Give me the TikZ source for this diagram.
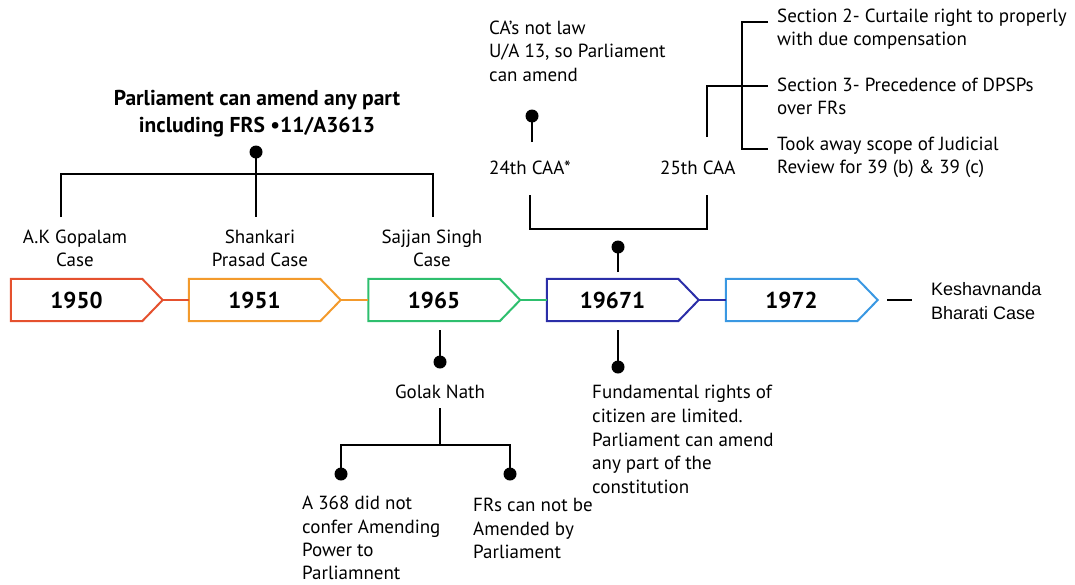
\documentclass[tikz,border=0pt]{standalone}
\usepackage{fontspec}
\setmainfont{PT Sans}
\newfontfamily\arialf{Liberation Sans}
\definecolor{cA}{HTML}{E5512E}
\definecolor{cB}{HTML}{F39A2C}
\definecolor{cC}{HTML}{2EBF6E}
\definecolor{cD}{HTML}{2B2EA8}
\definecolor{cE}{HTML}{3A98E2}
\begin{document}
\begin{tikzpicture}[x=1pt,y=-1pt,
  txt/.style={font=\fontsize{19}{23.6}\selectfont, inner sep=0pt, align=left},
  ctxt/.style={txt, align=center},
  ttl/.style={font=\fontsize{21.5}{26.7}\selectfont\bfseries, inner sep=0pt, align=center},
  yearbox/.style={minimum width=131pt, minimum height=42pt, inner sep=0pt, font=\fontsize{23}{26}\selectfont\bfseries},
  outline/.style={line width=2pt, line join=miter},
  conn/.style={line width=1.8pt},
  dot/.style={circle, fill=black, inner sep=0pt, minimum size=13pt},
  link/.style={line width=1.8pt, black}
]
\useasboundingbox (0,0) rectangle (1075,584);

% ---------- year boxes ----------
\node[yearbox] (y1) at (76.5,300) {1950};
\node[yearbox] (y2) at (254.5,300) {1951};
\node[yearbox] (y3) at (434,300) {1965};
\node[yearbox] (y4) at (612.5,300) {19671};
\node[yearbox] (y5) at (791.5,300) {1972};
\foreach \n/\c in {y1/cA,y2/cB,y3/cC,y4/cD,y5/cE}{
  \coordinate (\n t) at ([xshift=20.5pt]\n.east);
  \draw[outline, draw=\c] (\n.north west) -- (\n.north east) -- (\n t) -- (\n.south east) -- (\n.south west) -- cycle;
}
\draw[conn, cA] (y1t) -- (y2.west);
\draw[conn, cB] (y2t) -- (y3.west);
\draw[conn, cC] (y3t) -- (y4.west);
\draw[conn, cD] (y4t) -- (y5.west);

% Keshavnanda
\node[font=\arialf\fontsize{18}{24}\selectfont, inner sep=0pt, align=left, anchor=west] (kb) at (931,301) {Keshavnanda\\Bharati Case};
\coordinate (k0) at (887,300);
\coordinate (k1) at (912,300);
\draw[link] (k0) -- (k1);

% ---------- top-left tree ----------
\node[ttl] (title) at (257,113.5) {Parliament can amend any part\\including FRS •11/A3613};
\node[dot] (d1) at (256,152) {};
\coordinate (L1) at (61,217);
\coordinate (L2) at (256,217);
\coordinate (L3) at (433,217);
\coordinate (J1) at (256,174);
\draw[link] (L1) |- (J1) -| (L3);
\draw[link] (d1.center) -- (L2);
\node[ctxt] (ak) at (75,248.5) {A.K Gopalam\\Case};
\node[ctxt] (sp) at (260,248.5) {Shankari\\Prasad Case};
\node[ctxt] (ss) at (432,248.5) {Sajjan Singh\\Case};

% ---------- Golak Nath tree ----------
\coordinate (g0) at (440,330);
\node[dot] (d2) at (440,362) {};
\draw[link] (g0) -- (d2.center);
\node[ctxt] (gn) at (440,392) {Golak Nath};
\coordinate (g1) at (440,408);
\coordinate (g2) at (440,445);
\node[dot] (d3) at (341,474) {};
\node[dot] (d4) at (510,474) {};
\draw[link] (g1) -- (g2);
\draw[link] (d3.center) |- (g2) -| (d4.center);
\node[txt, anchor=west, font=\fontsize{19}{23.3}\selectfont] (a368) at (302,538) {A 368 did not\\confer Amending\\Power to\\Parliamnent};
\node[txt, anchor=west] (frs) at (473,528.5) {FRs can not be\\Amended by\\Parliament};

% ---------- 1967 down ----------
\coordinate (f0) at (618,330);
\node[dot] (d5) at (618,367) {};
\draw[link] (f0) -- (d5.center);
\node[txt, anchor=west] (fr) at (592,439.5) {Fundamental rights of\\citizen are limited.\\Parliament can amend\\any part of the\\constitution};

% ---------- 1967 up ----------
\coordinate (u0) at (618,272);
\node[dot] (d6) at (618,247) {};
\draw[link] (u0) -- (d6.center);
\coordinate (B1) at (530,195);
\coordinate (B2) at (707,195);
\coordinate (BJ) at (618,229);
\draw[link] (B1) |- (BJ) -| (B2);
\node[txt, anchor=west] (c24) at (489,168) {24th CAA*};
\node[txt, anchor=west] (c25) at (660,168) {25th CAA};
\coordinate (c24a) at (532,142);
\node[dot] (d7) at (532,116) {};
\draw[link] (c24a) -- (d7.center);
\node[txt, anchor=west] (ca) at (489,51) {CA’s not law\\U/A 13, so Parliament\\can amend};

% 25th CAA branches
\node[txt, anchor=west] (s2) at (777,29) {Section 2- Curtaile right to properly\\with due compensation};
\node[txt, anchor=west] (s3) at (777,96.5) {Section 3- Precedence of DPSPs\\over FRs};
\node[txt, anchor=west] (s4) at (777,157.5) {Took away scope of Judicial\\Review for 39 (b) \& 39 (c)};
\coordinate (c25a) at (707,137);
\coordinate (s3a) at (768,86);
\coordinate (s2a) at (768,22);
\coordinate (s4a) at (768,149);
\coordinate (V) at (742,86);
\draw[link] (c25a) |- (s3a);
\draw[link] (s2a) -| (V) |- (s4a);
\end{tikzpicture}
\end{document}
